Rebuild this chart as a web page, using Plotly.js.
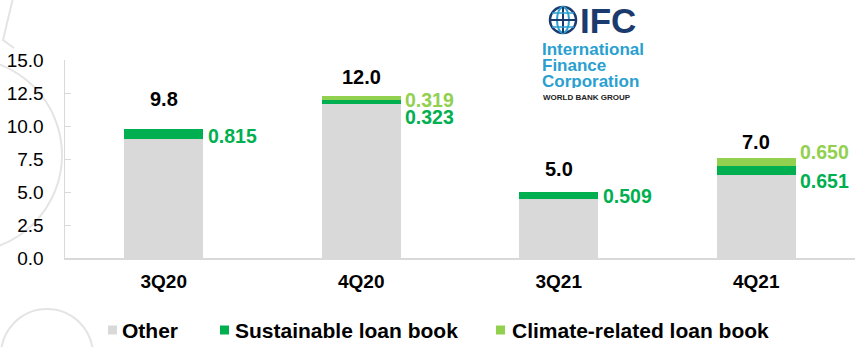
<!DOCTYPE html>
<html>
<head>
<meta charset="utf-8">
<script src="https://cdn.plot.ly/plotly-3.0.1.min.js"></script>
<style>html,body{margin:0;padding:0;background:#fff;}#chart{width:865px;height:347px;}</style>
</head>
<body>
<div id="chart"></div>
<script>
// ---- data ----
var categories = ['3Q20', '4Q20', '3Q21', '4Q21'];
var otherValues = [8.985, 11.65, 4.491, 6.3];
var sustainableValues = [0.815, 0.323, 0.509, 0.651];
var climateValues = [0, 0.319, 0, 0.650];
var totalLabels = ['9.8', '12.0', '5.0', '7.0'];
var sustainableLabels = ['0.815', '0.323', '0.509', '0.651'];
var climateLabels = [null, '0.319', null, '0.650'];
var seriesNames = ['Other', 'Sustainable loan book', 'Climate-related loan book'];
var yTickValues = [0, 2.5, 5, 7.5, 10, 12.5, 15];

// ---- style ----
var colGray = '#d9d9d9', colDark = '#00b050', colLight = '#92d050';
var seriesColors = [colGray, colDark, colLight];
var FONT = '"Liberation Sans", Arial, sans-serif';
var totalShift = [30, 19, 23, 16];
var susShift = [-1, -14.5, 0, -10];
var climShift = [0, -2, 0, 10];
var legendSquareX = [108, 220, 496];   // px
var legendTextX = [120, 233, 510];     // px

// plot area in pixels (for decoration placement only)
var L = 65, R = 10, T = 60, B = 89, W = 865, H = 347;
var pw = W - L - R, ph = H - T - B;
function px(x) { return (x - L) / pw; }
function py(y) { return (H - B - y) / ph; }

var traces = [
  {type: 'bar', name: seriesNames[0], x: categories, y: otherValues, marker: {color: seriesColors[0]}, hoverinfo: 'none'},
  {type: 'bar', name: seriesNames[1], x: categories, y: sustainableValues, marker: {color: seriesColors[1]}, hoverinfo: 'none'},
  {type: 'bar', name: seriesNames[2], x: categories, y: climateValues, marker: {color: seriesColors[2]}, hoverinfo: 'none'}
];

var annotations = [];
categories.forEach(function (c, i) {
  var top = otherValues[i] + sustainableValues[i] + climateValues[i];
  annotations.push({x: c, y: top, xref: 'x', yref: 'y', text: totalLabels[i], showarrow: false,
    yanchor: 'middle', yshift: totalShift[i], font: {family: FONT, size: 20, color: '#000', weight: 'bold'}});
  annotations.push({x: c, y: otherValues[i] + sustainableValues[i] / 2, xref: 'x', yref: 'y', text: sustainableLabels[i],
    showarrow: false, xanchor: 'left', xshift: 42, yanchor: 'middle', yshift: susShift[i], height: 17,
    font: {family: FONT, size: 19.5, color: colDark, weight: 'bold'}});
  if (climateLabels[i]) {
    annotations.push({x: c, y: otherValues[i] + sustainableValues[i] + climateValues[i] / 2, xref: 'x', yref: 'y',
      text: climateLabels[i], showarrow: false, xanchor: 'left', xshift: 42, yanchor: 'middle', yshift: climShift[i], height: 17,
      font: {family: FONT, size: 19.5, color: colLight, weight: 'bold'}});
  }
});

// custom legend
var shapes = [];
seriesNames.forEach(function (n, i) {
  shapes.push({type: 'rect', xref: 'paper', yref: 'paper', x0: px(legendSquareX[i]), x1: px(legendSquareX[i] + 9),
    y0: py(334.5), y1: py(325.5), fillcolor: seriesColors[i], line: {width: 0}});
  annotations.push({xref: 'paper', yref: 'paper', x: px(legendTextX[i]), y: py(330), xanchor: 'left', yanchor: 'middle',
    showarrow: false, text: n, font: {family: FONT, size: 21, color: '#000', weight: 'bold'}});
});

// IFC logo texts
var navy = '#1b3a6e', teal = '#2a9fd0';
annotations.push({xref: 'paper', yref: 'paper', x: px(578), y: py(20), xanchor: 'left', yanchor: 'middle', showarrow: false,
  text: 'IFC', font: {family: FONT, size: 35, color: navy, weight: 'bold'}});
[['International', 49], ['Finance', 65], ['Corporation', 81]].forEach(function (t) {
  annotations.push({xref: 'paper', yref: 'paper', x: px(540), y: py(t[1]), xanchor: 'left', yanchor: 'middle', showarrow: false,
    height: 14, text: t[0], font: {family: FONT, size: 17, color: teal, weight: 'bold'}});
});
annotations.push({xref: 'paper', yref: 'paper', x: px(541), y: py(97), xanchor: 'left', yanchor: 'middle', showarrow: false,
  height: 10, text: 'WORLD BANK GROUP', font: {family: FONT, size: 8, color: '#222', weight: 'bold'}});

var deco = '#e4e4e4';
shapes = shapes.concat([
  // background decorative outlines
  {type: 'circle', xref: 'paper', yref: 'paper', x0: px(-132), x1: px(62), y0: py(252), y1: py(58), line: {color: deco, width: 2}, layer: 'below'},
  {type: 'circle', xref: 'paper', yref: 'paper', x0: px(1), x1: px(93), y0: py(401), y1: py(309), line: {color: deco, width: 2}, layer: 'below'},
  {type: 'path', xref: 'paper', yref: 'paper', path: 'M' + px(13) + ',' + py(-2) + ' L' + px(3) + ',' + py(40) + ' L' + px(14) + ',' + py(48),
    line: {color: deco, width: 2}, layer: 'below'},
  // globe of logo
  {type: 'circle', xref: 'paper', yref: 'paper', x0: px(550), x1: px(576), y0: py(33), y1: py(7), line: {color: navy, width: 2.5}},
  {type: 'circle', xref: 'paper', yref: 'paper', x0: px(557), x1: px(569), y0: py(33), y1: py(7), line: {color: teal, width: 2}},
  {type: 'line', xref: 'paper', yref: 'paper', x0: px(563), x1: px(563), y0: py(33), y1: py(7), line: {color: navy, width: 2}},
  {type: 'line', xref: 'paper', yref: 'paper', x0: px(550), x1: px(576), y0: py(20), y1: py(20), line: {color: navy, width: 2}},
  {type: 'line', xref: 'paper', yref: 'paper', x0: px(552), x1: px(574), y0: py(13), y1: py(13), line: {color: teal, width: 1.5}},
  {type: 'line', xref: 'paper', yref: 'paper', x0: px(552), x1: px(574), y0: py(27), y1: py(27), line: {color: teal, width: 1.5}}
]);

var layout = {
  width: W, height: H,
  margin: {l: L, r: R, t: T, b: B, autoexpand: false},
  paper_bgcolor: '#fff', plot_bgcolor: '#fff',
  barmode: 'stack', bargap: 0.6,
  showlegend: false,
  xaxis: {type: 'category', showline: true, linecolor: colGray, linewidth: 1.5, ticks: '', showgrid: false,
    tickfont: {family: FONT, size: 19, color: '#000', weight: 'bold'}, ticklabelstandoff: 6},
  yaxis: {range: [0, 15], tickvals: yTickValues, tickformat: '.1f', showline: true, linecolor: colGray, linewidth: 1.5,
    ticks: 'inside', ticklen: 6, tickcolor: colGray, showgrid: false, zeroline: false,
    tickfont: {family: FONT, size: 19, color: '#000'}, ticklabelstandoff: 16},
  annotations: annotations,
  shapes: shapes
};

Plotly.newPlot('chart', traces, layout, {displayModeBar: false, staticPlot: true});
</script>
</body>
</html>
